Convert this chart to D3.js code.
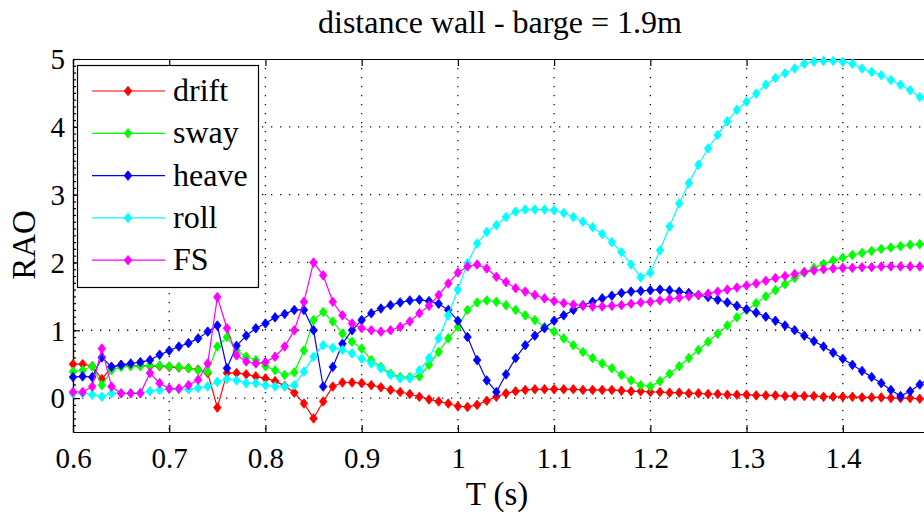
<!DOCTYPE html>
<html>
<head>
<meta charset="utf-8">
<script src="https://cdnjs.cloudflare.com/ajax/libs/d3/7.8.5/d3.min.js"></script>
<style>
  html, body { margin: 0; padding: 0; background: #fff; }
  svg { display: block; }
  svg text { font-family: "Liberation Serif", "Times New Roman", Times, Tinos, "DejaVu Serif", "Noto Serif", serif; fill: #000; }
</style>
</head>
<body>
<div id="chart"></div>
<script>
// wave periods (s)
const periods = [
  0.60, 0.61, 0.62, 0.63, 0.64, 0.65, 0.66, 0.67, 0.68, 0.69,
  0.70, 0.71, 0.72, 0.73, 0.74, 0.75, 0.76, 0.77, 0.78, 0.79,
  0.80, 0.81, 0.82, 0.83, 0.84, 0.85, 0.86, 0.87, 0.88, 0.89,
  0.90, 0.91, 0.92, 0.93, 0.94, 0.95, 0.96, 0.97, 0.98, 0.99,
  1.00, 1.01, 1.02, 1.03, 1.04, 1.05, 1.06, 1.07, 1.08, 1.09,
  1.10, 1.11, 1.12, 1.13, 1.14, 1.15, 1.16, 1.17, 1.18, 1.19,
  1.20, 1.21, 1.22, 1.23, 1.24, 1.25, 1.26, 1.27, 1.28, 1.29,
  1.30, 1.31, 1.32, 1.33, 1.34, 1.35, 1.36, 1.37, 1.38, 1.39,
  1.40, 1.41, 1.42, 1.43, 1.44, 1.45, 1.46, 1.47, 1.48, 1.49,
  1.50
];

const drift = [
  0.50, 0.50, 0.47, 0.28, 0.46, 0.49, 0.48, 0.48, 0.47, 0.47,
  0.46, 0.45, 0.44, 0.42, 0.37, -0.14, 0.37, 0.37, 0.35, 0.32,
  0.29, 0.25, 0.18, 0.08, -0.08, -0.30, -0.05, 0.17, 0.23, 0.23,
  0.22, 0.19, 0.16, 0.12, 0.09, 0.06, 0.02, -0.02, -0.05, -0.08,
  -0.12, -0.13, -0.10, -0.04, 0.02, 0.07, 0.10, 0.12, 0.13, 0.13,
  0.13, 0.13, 0.13, 0.12, 0.12, 0.12, 0.12, 0.11, 0.10, 0.10,
  0.09, 0.09, 0.08, 0.08, 0.07, 0.07, 0.06, 0.06, 0.05, 0.05,
  0.05, 0.04, 0.04, 0.04, 0.03, 0.03, 0.03, 0.03, 0.02, 0.02,
  0.02, 0.02, 0.01, 0.01, 0.01, 0.00, 0.00, 0.00, -0.01, -0.01,
  -0.01
];

const sway = [
  0.39, 0.41, 0.47, 0.19, 0.41, 0.46, 0.47, 0.47, 0.48, 0.48,
  0.47, 0.46, 0.44, 0.41, 0.39, 0.76, 0.90, 0.70, 0.61, 0.56,
  0.47, 0.41, 0.34, 0.38, 0.70, 1.15, 1.27, 1.13, 0.95, 0.83,
  0.73, 0.56, 0.46, 0.36, 0.31, 0.31, 0.32, 0.49, 0.68, 0.88,
  1.05, 1.30, 1.41, 1.44, 1.42, 1.37, 1.30, 1.22, 1.15, 1.05,
  0.98, 0.88, 0.78, 0.68, 0.59, 0.51, 0.44, 0.34, 0.26, 0.19,
  0.17, 0.25, 0.36, 0.47, 0.59, 0.71, 0.83, 0.95, 1.07, 1.19,
  1.30, 1.40, 1.50, 1.59, 1.68, 1.77, 1.85, 1.92, 1.98, 2.03,
  2.07, 2.11, 2.14, 2.17, 2.20, 2.22, 2.24, 2.26, 2.27, 2.27,
  2.28
];

const heave = [
  0.31, 0.32, 0.31, 0.60, 0.46, 0.49, 0.51, 0.53, 0.56, 0.64,
  0.70, 0.76, 0.81, 0.88, 0.98, 1.07, 0.44, 0.77, 0.92, 1.03,
  1.10, 1.19, 1.24, 1.30, 1.30, 1.00, 0.17, 0.46, 0.80, 1.00,
  1.15, 1.25, 1.32, 1.37, 1.41, 1.44, 1.45, 1.43, 1.39, 1.30,
  1.14, 0.90, 0.56, 0.26, 0.09, 0.35, 0.59, 0.78, 0.92, 1.03,
  1.14, 1.22, 1.30, 1.37, 1.42, 1.47, 1.51, 1.55, 1.57, 1.58,
  1.59, 1.60, 1.59, 1.57, 1.55, 1.52, 1.49, 1.45, 1.41, 1.36,
  1.31, 1.26, 1.20, 1.14, 1.07, 1.00, 0.92, 0.84, 0.76, 0.67,
  0.58, 0.49, 0.40, 0.31, 0.22, 0.12, 0.03, 0.10, 0.20, 0.29,
  0.37
];

const roll = [
  0.07, 0.07, 0.05, 0.02, 0.07, 0.07, 0.07, 0.08, 0.10, 0.12,
  0.13, 0.13, 0.13, 0.15, 0.17, 0.24, 0.28, 0.26, 0.22, 0.22,
  0.19, 0.17, 0.17, 0.19, 0.39, 0.61, 0.78, 0.74, 0.71, 0.66,
  0.58, 0.51, 0.44, 0.34, 0.29, 0.29, 0.41, 0.59, 0.88, 1.22,
  1.60, 1.99, 2.28, 2.45, 2.55, 2.67, 2.75, 2.78, 2.78, 2.78,
  2.77, 2.73, 2.67, 2.60, 2.52, 2.42, 2.30, 2.15, 1.97, 1.78,
  1.85, 2.18, 2.53, 2.87, 3.17, 3.44, 3.68, 3.88, 4.08, 4.25,
  4.37, 4.49, 4.62, 4.72, 4.79, 4.86, 4.93, 4.96, 4.97, 4.97,
  4.96, 4.93, 4.86, 4.81, 4.76, 4.69, 4.62, 4.54, 4.44, 4.35,
  4.26
];

const fs = [
  0.09, 0.09, 0.17, 0.73, 0.17, 0.07, 0.07, 0.07, 0.37, 0.22,
  0.14, 0.14, 0.19, 0.27, 0.51, 1.49, 1.03, 0.63, 0.54, 0.51,
  0.53, 0.61, 0.76, 1.00, 1.42, 2.00, 1.81, 1.42, 1.22, 1.10,
  1.03, 1.00, 0.98, 1.00, 1.05, 1.13, 1.25, 1.36, 1.52, 1.69,
  1.85, 1.94, 1.97, 1.91, 1.79, 1.71, 1.62, 1.57, 1.52, 1.47,
  1.43, 1.40, 1.38, 1.36, 1.35, 1.35, 1.36, 1.37, 1.39, 1.41,
  1.42, 1.44, 1.46, 1.48, 1.50, 1.52, 1.54, 1.57, 1.60, 1.63,
  1.66, 1.69, 1.73, 1.77, 1.80, 1.83, 1.86, 1.88, 1.90, 1.91,
  1.92, 1.92, 1.93, 1.93, 1.94, 1.94, 1.94, 1.94, 1.94, 1.94,
  1.94
];

const seriesNames = ["drift", "sway", "heave", "roll", "FS"];
const seriesColors = ["#ff0000", "#00ff00", "#0000ff", "#00ffff", "#ff00ff"];
const seriesValues = [drift, sway, heave, roll, fs];

// 1.5 sits just past the right edge of the picture, so only its tick is drawn
const xTicks = [0.6, 0.7, 0.8, 0.9, 1.0, 1.1, 1.2, 1.3, 1.4, 1.5];
const xTickLabels = ["0.6", "0.7", "0.8", "0.9", "1", "1.1", "1.2", "1.3", "1.4", ""];
const yTicks = [0, 1, 2, 3, 4, 5];
const yTickLabels = ["0", "1", "2", "3", "4", "5"];

const width = 924, height = 513;
const plotLeft = 73, plotRight = 939, plotTop = 59, plotBottom = 432;

const svg = d3.select("#chart").append("svg")
    .attr("width", width)
    .attr("height", height)
    .style("background", "#fff");

const x = d3.scaleLinear().domain([0.6, 1.5]).range([plotLeft, plotRight]);
const y = d3.scaleLinear().domain([-0.5, 5]).range([plotBottom, plotTop]);

// dotted grid
const grid = svg.append("g")
    .attr("stroke", "#111")
    .attr("stroke-width", 1.3)
    .attr("stroke-dasharray", "1.3,7.7");

grid.selectAll(".vgrid")
    .data(xTicks.slice(1))
    .enter().append("line")
    .attr("x1", d => x(d)).attr("x2", d => x(d))
    .attr("y1", plotTop).attr("y2", plotBottom);

grid.selectAll(".hgrid")
    .data(yTicks.slice(0, -1))
    .enter().append("line")
    .attr("x1", plotLeft).attr("x2", plotRight)
    .attr("y1", d => y(d)).attr("y2", d => y(d));

// axes box and ticks (inward, matlab style)
svg.append("g")
    .attr("transform", `translate(0,${plotBottom})`)
    .call(d3.axisBottom(x).tickValues(xTicks).tickSizeInner(-7).tickSizeOuter(0)
        .tickPadding(15).tickFormat((d, i) => xTickLabels[i]));

svg.append("g")
    .attr("transform", `translate(0,${plotTop})`)
    .call(d3.axisTop(x).tickValues(xTicks).tickSizeInner(-7).tickSizeOuter(0).tickFormat(""));

const yMinor = d3.range(-4, 50).map(k => k / 10);
svg.append("g")
    .attr("transform", `translate(${plotLeft},0)`)
    .call(d3.axisLeft(y).tickValues(yMinor).tickSizeInner(-3).tickSizeOuter(0).tickFormat(""));

const yLeft = svg.append("g")
    .attr("transform", `translate(${plotLeft},0)`)
    .call(d3.axisLeft(y).tickValues(yTicks).tickSizeInner(-7).tickSizeOuter(0)
        .tickPadding(8).tickFormat((d, i) => yTickLabels[i]));

svg.selectAll(".domain, .tick line")
    .attr("stroke", "#000")
    .attr("stroke-width", 1.2);

// d3 axis sets font-family="sans-serif" on its group; drop it so the css serif applies
svg.selectAll("g[font-family]").attr("font-family", null);

svg.selectAll(".tick text")
    .attr("font-size", 29)
    .attr("fill", "#000");

yLeft.selectAll(".tick text").attr("dy", "0.34em");

// data lines with diamond markers
const diamond = "M0,-4.8L3.8,0L0,4.8L-3.8,0Z";
const line = d3.line()
    .x((d, i) => x(periods[i]))
    .y(d => y(d));

seriesValues.forEach((vals, s) => {
    const g = svg.append("g").attr("class", "series");
    g.append("path")
        .datum(vals)
        .attr("fill", "none")
        .attr("stroke", seriesColors[s])
        .attr("stroke-width", 1.2)
        .attr("d", line);
    g.selectAll(".pt")
        .data(vals)
        .enter().append("path")
        .attr("d", diamond)
        .attr("transform", (d, i) => `translate(${x(periods[i])},${y(d)})`)
        .attr("fill", seriesColors[s])
        .attr("stroke", seriesColors[s])
        .attr("stroke-width", 0.8);
});

// legend
const legend = svg.append("g");
legend.append("rect")
    .attr("x", 77.5).attr("y", 65.5)
    .attr("width", 181).attr("height", 222)
    .attr("fill", "#fff")
    .attr("stroke", "#000")
    .attr("stroke-width", 1.2);

seriesNames.forEach((name, i) => {
    const ly = 91 + i * 42.3;
    legend.append("line")
        .attr("x1", 92).attr("x2", 165)
        .attr("y1", ly).attr("y2", ly)
        .attr("stroke", seriesColors[i])
        .attr("stroke-width", 1.2);
    legend.append("path")
        .attr("d", diamond)
        .attr("transform", `translate(128,${ly})`)
        .attr("fill", seriesColors[i])
        .attr("stroke", seriesColors[i])
        .attr("stroke-width", 0.8);
    legend.append("text")
        .attr("x", 173).attr("y", ly + 10)
        .attr("font-size", 32)
        .text(name);
});

// titles
svg.append("text")
    .attr("x", 500).attr("y", 33)
    .attr("text-anchor", "middle")
    .attr("font-size", 32)
    .text("distance wall - barge = 1.9m");

svg.append("text")
    .attr("x", 497).attr("y", 505)
    .attr("text-anchor", "middle")
    .attr("font-size", 33)
    .text("T (s)");

svg.append("text")
    .attr("transform", "translate(35,245) rotate(-90)")
    .attr("text-anchor", "middle")
    .attr("font-size", 33)
    .text("RAO");
</script>
</body>
</html>
